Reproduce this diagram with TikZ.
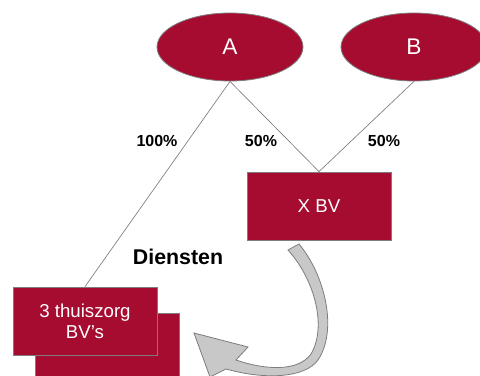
\documentclass[tikz,border=0pt]{standalone}
\usepackage{fontspec}
\setmainfont{Liberation Sans}
\usetikzlibrary{shapes.geometric}
\definecolor{wine}{RGB}{166,12,48}
\definecolor{lgray}{RGB}{200,200,200}
\definecolor{dgray}{RGB}{125,125,125}
\tikzset{
  owner/.style={ellipse, fill=wine, draw=dgray, line width=0.6pt, minimum width=109.5pt, minimum height=51pt, inner sep=0pt, text=white, font=\fontsize{17}{20}\selectfont},
  firm/.style={rectangle, fill=wine, draw=dgray, line width=0.6pt, minimum width=108pt, minimum height=51pt, inner sep=0pt, text=white, align=center, font=\fontsize{14}{15.75}\selectfont},
  link/.style={draw=dgray, line width=0.5pt},
  pct/.style={font=\bfseries\fontsize{12}{14}\selectfont},
}
\begin{document}
\begin{tikzpicture}[x=0.75pt,y=-0.75pt]
\useasboundingbox (0,0) rectangle (480,376);
% nodes
\node[owner] (A) at (230,47) {A};
\node[owner] (B) at (414,47) {B};
\node[firm] (X) at (319,206) {X BV};
\node[firm] (tzback) at (107.5,347) {};
\node[firm] (tz) at (85,321) {3 thuiszorg\\BV’s};
% connectors
\draw[link] (A.south) -- (tz.north);
\draw[link] (A.south) -- (X.north);
\draw[link] (B.south) -- (X.north);
% labels
\node[pct] (l1) at (157,141) {100\%};
\node[pct] (l2) at (261,141) {50\%};
\node[pct] (l3) at (384,141) {50\%};
\node[font=\bfseries\fontsize{16}{18}\selectfont] (dn) at (178,257) {Diensten};
% curved arrow
\draw[fill=lgray, draw=dgray, line width=0.6pt, line join=miter]
  (299,244) .. controls (325,275) and (338,330) .. (318,360)
  .. controls (305,378) and (265,380) .. (226,369)
  -- (210,377) -- (194,333) -- (248,347) -- (236,360)
  .. controls (265,370) and (298,372) .. (311,354)
  .. controls (327,327) and (315,280) .. (288,250) -- cycle;
\end{tikzpicture}
\end{document}
